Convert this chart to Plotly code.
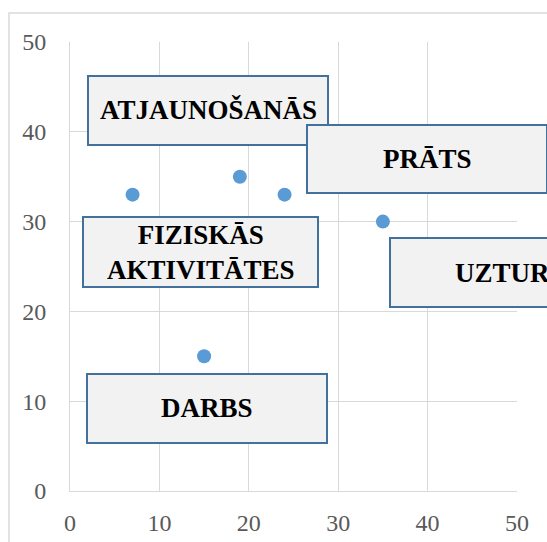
import plotly.graph_objects as go

x_vals = [7, 19, 24, 35, 15]
y_vals = [33, 35, 33, 30, 15]
tick_vals = [0, 10, 20, 30, 40, 50]

labels = ["ATJAUNOŠANĀS", "PRĀTS", "FIZISKĀS<br>AKTIVITĀTES", "UZTURS", "DARBS"]
# label boxes in pixel coordinates (left, top, right, bottom)
boxes = [(88, 76, 328, 145), (307, 125, 547, 193), (83, 217, 318, 287),
         (390, 238, 630, 307), (87, 374, 327, 443)]

W, H = 547, 542
L, R, T, B = 70, 30, 42, 51
pw, ph = W - L - R, H - T - B

def px(x):
    return (x - L) / pw

def py(y):
    return (H - B - y) / ph

fig = go.Figure()
fig.add_trace(go.Scatter(x=x_vals, y=y_vals, mode="markers",
                         marker=dict(color="#5B9BD5", size=14), cliponaxis=False))

shapes = [dict(type="rect", xref="paper", yref="paper",
               x0=px(9), x1=px(700), y0=py(13), y1=py(700),
               line=dict(color="#D9D9D9", width=1.5), fillcolor="rgba(0,0,0,0)", layer="below")]
annotations = []
for lab, (l, t, r, b) in zip(labels, boxes):
    shapes.append(dict(type="rect", xref="paper", yref="paper",
                       x0=px(l), x1=px(r), y0=py(b), y1=py(t),
                       line=dict(color="#41719C", width=2), fillcolor="#F2F2F2", layer="above"))
    annotations.append(dict(xref="paper", yref="paper", x=px((l + r) / 2), y=py((t + b) / 2),
                            text="<b>" + lab + "</b>", showarrow=False,
                            xanchor="center", yanchor="middle",
                            font=dict(family="Liberation Serif", size=27, color="#000000")))

axis_common = dict(range=[0, 50], tickvals=tick_vals, showgrid=True, gridcolor="#D9D9D9",
                   gridwidth=1, zeroline=False, showline=True, linecolor="#D9D9D9", linewidth=1,
                   ticks="", tickfont=dict(family="Liberation Serif", size=24, color="#595959"),
                   fixedrange=True, automargin=False)

fig.update_layout(
    template="none",
    width=W, height=H,
    margin=dict(l=L, r=R, t=T, b=B, pad=0, autoexpand=False),
    paper_bgcolor="white", plot_bgcolor="white",
    showlegend=False,
    xaxis=dict(**axis_common, ticklabelstandoff=10),
    yaxis=dict(**axis_common, ticklabelstandoff=18),
    shapes=shapes, annotations=annotations,
)
fig.write_html("out.html", config={"displayModeBar": False})
with open("out.html", encoding="utf-8") as f:
    html = f.read()
html = html.replace("<body>", '<body style="margin:0;overflow:hidden">', 1)
with open("out.html", "w", encoding="utf-8") as f:
    f.write(html)
